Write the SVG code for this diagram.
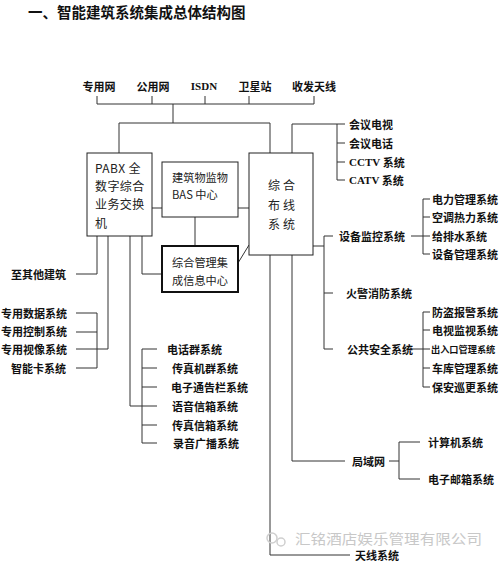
<svg xmlns="http://www.w3.org/2000/svg" width="499" height="564" viewBox="0 0 499 564">
<style>
text{font-family:"Noto Sans CJK SC","Liberation Sans",sans-serif;fill:#111;dominant-baseline:central}
.t{font-size:14.5px;font-weight:bold}
.b{font-size:11px;font-weight:bold}
.r{font-size:11px;font-weight:bold;text-anchor:end}
.s{font-family:"Liberation Serif","Noto Sans CJK SC",serif;font-weight:bold}
.n{font-size:12px;font-weight:normal;fill:#222}
.m{font-size:11.2px}
.sm{font-size:9.2px}
.box{fill:#fff;stroke:#222;stroke-width:1}
.thick{fill:#fff;stroke:#111;stroke-width:2}
.ln{fill:none;stroke:#333;stroke-width:1}
.wm{font-size:13.5px;fill:#c8c8c8;font-weight:normal}
</style>
<rect width="499" height="564" fill="#fff"/>
<text class="t" x="28" y="11">一、智能建筑系统集成总体结构图</text>

<g id="connectors" class="ln">
<path d="M97,96V104M152,96V104M205,96V104M249,96V104M314,96V104M97,104H314M173,104V123M119,123H270M119,123V153M270,123V153"/>
<path d="M292,153V124H345M337,124V180M337,143H345M337,162H345M337,180H345"/>
<path d="M152,208H162M238,208H249M195,217V246M238,263L249,245"/>
<path d="M97,236V274H76M108,236V349H76M130,236V406H157M142,236V274H162"/>
<path d="M97,313V368M76,313H97M76,332H97M76,368H97"/>
<path d="M142,349V443M142,349H157M142,368H157M142,387H157M142,425H157M142,443H157"/>
<path d="M313,246H324M324,236V349M324,236H333M324,293H333M324,349H333"/>
<path d="M411,236H423M423,199V254M423,199H430M423,217H430M423,236H430M423,254H430"/>
<path d="M412,349H423M423,312V387M423,312H430M423,330H430M423,349H430M423,368H430M423,387H430"/>
<path d="M292,255V461H345M389,461H399M399,442V479M399,442H420M399,479H420"/>
<path d="M270,255V555H350"/>
</g>

<g id="n-top">
<text class="b" x="99" y="86" text-anchor="middle">专用网</text>
<text class="b" x="153" y="86" text-anchor="middle">公用网</text>
<text class="b s" x="204" y="86" text-anchor="middle">ISDN</text>
<text class="b" x="255" y="86" text-anchor="middle">卫星站</text>
<text class="b" x="314" y="86" text-anchor="middle">收发天线</text>
</g>

<g id="n-pabx">
<rect class="box" x="87" y="153" width="65" height="83"/>
<text class="n" x="95" y="167" letter-spacing="0.4">PABX 全</text>
<text class="n" x="95" y="185" letter-spacing="0.4">数字综合</text>
<text class="n" x="95" y="203" letter-spacing="0.4">业务交换</text>
<text class="n" x="95" y="222">机</text>
</g>

<g id="n-bas">
<rect class="box" x="162" y="162" width="76" height="55"/>
<text class="n m" x="172" y="177">建筑物监物</text>
<text class="n m" x="172" y="194">BAS 中心</text>
</g>

<g id="n-ims">
<rect class="thick" x="162" y="246" width="76" height="46"/>
<text class="n m" x="172" y="262">综合管理集</text>
<text class="n m" x="172" y="280">成信息中心</text>
</g>

<g id="n-cabling">
<rect class="box" x="249" y="153" width="64" height="102"/>
<text class="n" x="268" y="184" letter-spacing="3">综合</text>
<text class="n" x="268" y="204" letter-spacing="3">布线</text>
<text class="n" x="268" y="223" letter-spacing="3">系统</text>
</g>

<g id="n-meeting">
<text class="b" x="349" y="124">会议电视</text>
<text class="b" x="349" y="143">会议电话</text>
<text class="b" x="349" y="162"><tspan class="s">CCTV</tspan> 系统</text>
<text class="b" x="349" y="180"><tspan class="s">CATV</tspan> 系统</text>
</g>

<g id="n-other">
<text class="r" x="66" y="274">至其他建筑</text>
</g>

<g id="n-private">
<text class="r" x="67" y="313">专用数据系统</text>
<text class="r" x="67" y="331">专用控制系统</text>
<text class="r" x="67" y="349">专用视像系统</text>
<text class="r" x="66" y="368">智能卡系统</text>
</g>

<g id="n-phone">
<text class="b" x="167" y="349">电话群系统</text>
<text class="b" x="172" y="368">传真机群系统</text>
<text class="b" x="171" y="387">电子通告栏系统</text>
<text class="b" x="172" y="406">语音信箱系统</text>
<text class="b" x="172" y="425">传真信箱系统</text>
<text class="b" x="173" y="443">录音广播系统</text>
</g>

<g id="n-equip">
<text class="b" x="339" y="236">设备监控系统</text>
<text class="b" x="432" y="199">电力管理系统</text>
<text class="b" x="432" y="217">空调热力系统</text>
<text class="b" x="432" y="236">给排水系统</text>
<text class="b" x="432" y="254">设备管理系统</text>
</g>

<g id="n-fire">
<text class="b" x="346" y="293">火警消防系统</text>
</g>

<g id="n-security">
<text class="b" x="347" y="349">公共安全系统</text>
<text class="b" x="432" y="312">防盗报警系统</text>
<text class="b" x="432" y="330">电视监视系统</text>
<text class="b sm" x="431" y="349">出入口管理系统</text>
<text class="b" x="432" y="368">车库管理系统</text>
<text class="b" x="432" y="387">保安巡更系统</text>
</g>

<g id="n-lan">
<text class="b" x="352" y="461">局域网</text>
<text class="b" x="428" y="442">计算机系统</text>
<text class="b" x="428" y="479">电子邮箱系统</text>
</g>

<g id="n-antenna">
<text class="b" x="355" y="555">天线系统</text>
</g>

<g id="watermark">
<circle cx="272" cy="538" r="5" fill="none" stroke="#cfcfcf" stroke-width="1.5"/>
<circle cx="281" cy="542" r="4" fill="none" stroke="#cfcfcf" stroke-width="1.5"/>
<text class="wm" x="295" y="538" textLength="187" lengthAdjust="spacingAndGlyphs">汇铭酒店娱乐管理有限公司</text>
</g>
</svg>
